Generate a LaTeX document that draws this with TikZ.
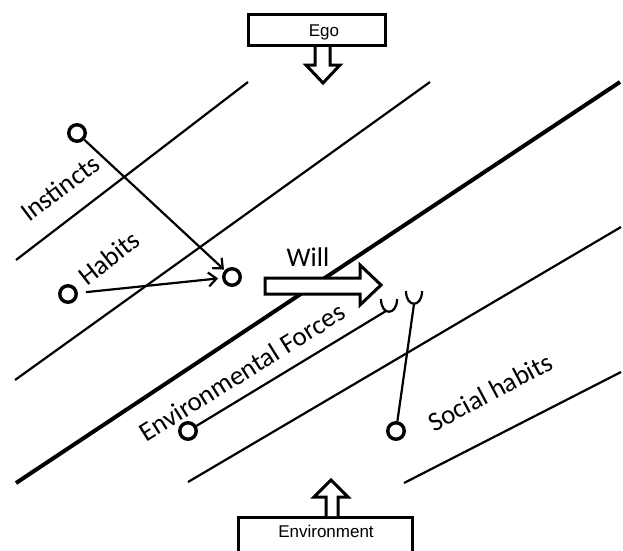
\documentclass[tikz,border=0pt]{standalone}
\usepackage{fontspec}
\setmainfont{Carlito}
\newfontfamily\arialf{Liberation Sans}
\usetikzlibrary{arrows.meta}
\begin{document}
\begin{tikzpicture}[x=1pt,y=-1pt,
  thinline/.style={line width=2.2pt},
  thickline/.style={line width=4pt},
  circ/.style={circle, draw, line width=3.4pt, minimum size=16.5pt, inner sep=0pt},
  lbl/.style={font=\fontsize{27}{30}\selectfont, inner sep=0pt},
  boxtext/.style={font=\arialf\fontsize{17}{19}\selectfont, inner sep=0pt},
  framebox/.style={draw, line width=3pt, inner sep=0pt},
  blockarrow/.style={draw, line width=3pt, fill=white, line join=miter},
  tip/.style={-{Straight Barb[length=8pt,width=14pt]}}
]
\useasboundingbox (0,0) rectangle (623,550);
% diagonal lines
\draw[thinline] (16,260) -- (248,82);
\draw[thinline] (15,380) -- (430,82);
\draw[thickline] (16,483) -- (620,82);
\draw[thinline] (188,482) -- (621,227);
\draw[thinline] (404,483) -- (621,372);
% circles
\node[circ] (c1) at (77,133) {};
\node[circ] (c2) at (68,294) {};
\node[circ] (c3) at (232,277) {};
\node[circ] (c4) at (188,431) {};
\node[circ] (c5) at (396,431) {};
% arrows to c3
\draw[thinline, tip, shorten >=1pt] (c1) -- (c3);
\draw[thinline, tip, shorten <=8pt, shorten >=4pt] (c2) -- (c3);
% hooks
\coordinate (h1) at (386,311);
\coordinate (h2) at (414,304);
\draw[thinline] (381,299) .. controls (381,316) and (397,316) .. (397,299);
\draw[thinline] (406,291) .. controls (406,308) and (422,308) .. (422,291);
\draw[thinline] (c4) -- (h1);
\draw[thinline] (c5) -- (h2);
% Will arrow
\draw[blockarrow] (265,278) -- (360,278) -- (360,265) -- (381,285) -- (360,305) -- (360,294) -- (265,294) -- cycle;
\node[lbl] (will) at (308,257) {Will};
% Ego
\node[framebox, minimum width=137pt, minimum height=31pt] (ego) at (317,30) {};
\node[boxtext] (egotext) at (324,32) {Ego};
\draw[blockarrow] (315,47) -- (315,65) -- (306,65) -- (323,83) -- (340,65) -- (330,65) -- (330,47);
% Environment
\node[framebox, minimum width=174pt, minimum height=50pt] (env) at (325,542) {};
\node[boxtext] (envtext) at (326,531) {Environment};
\draw[blockarrow] (326,516) -- (326,497) -- (314,497) -- (331,480) -- (348,497) -- (338,497) -- (338,516);
% labels
\node[lbl, rotate=37] (inst) at (60,188) {Instincts};
\node[lbl, rotate=38] (hab) at (109,258) {Habits};
\node[lbl, rotate=32] (envf) at (242,372) {Environmental Forces};
\node[lbl, rotate=28] (soc) at (490,392) {Social habits};
\end{tikzpicture}
\end{document}
